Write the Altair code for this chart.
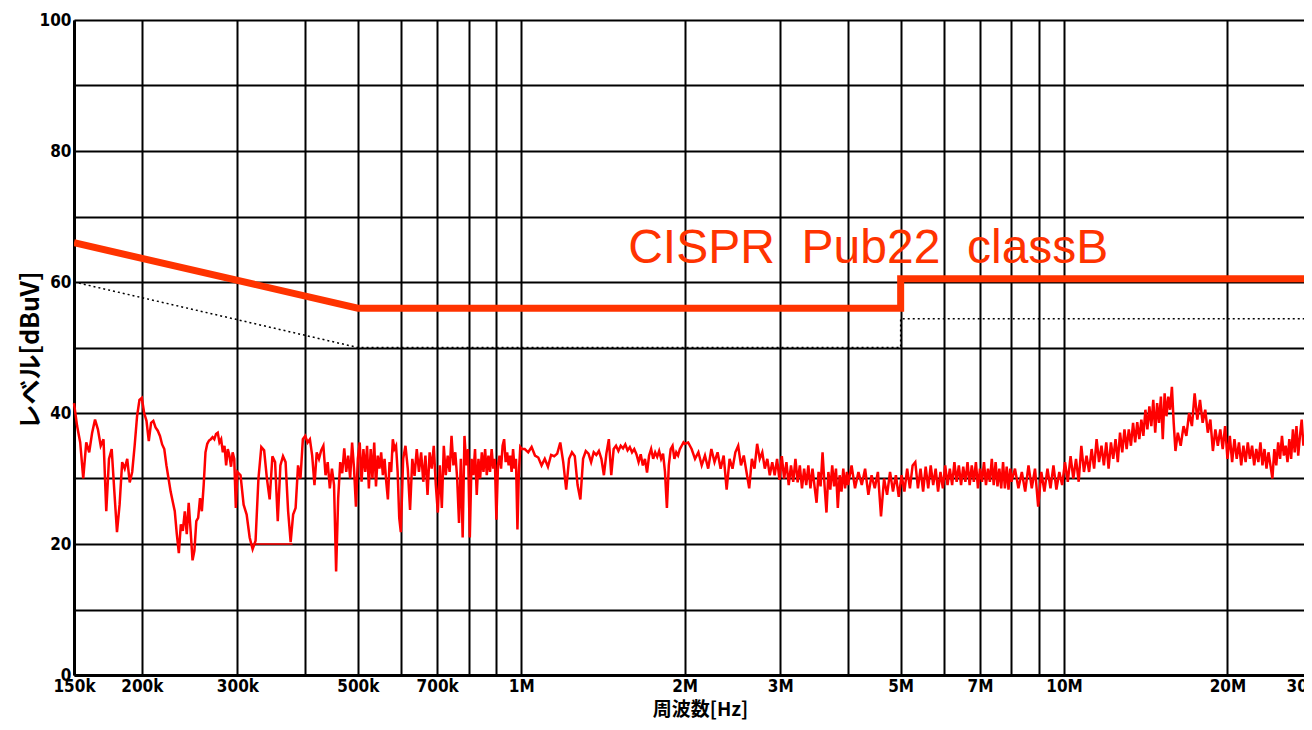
import altair as alt
import pandas as pd

# ---------------- measured trace (frequency in kHz, level in dBuV) ----------------
F1 = [150, 152, 154, 156, 158, 160, 162, 164, 166, 168, 170, 172, 174, 176, 178, 180, 182, 184, 186, 188,
      190, 192, 194, 196, 198, 200, 202, 204, 206, 208, 210, 212, 214, 216, 218, 220, 222, 224, 226, 228,
      230, 232, 234, 236, 238, 240, 242, 244, 246, 248, 250, 252, 254, 256, 258, 260, 262, 264, 266, 268,
      270, 272, 274, 276, 278, 280, 282, 284, 286, 288, 290, 292, 294, 296, 298, 300]
L1 = [41.5, 38, 35.5, 30, 35.5, 34, 37, 39, 37.5, 35, 36, 25, 33, 34.5, 28, 21.8, 26, 32.5, 31.5, 33,
      29.4, 31, 35, 39.5, 42, 42.3, 40, 38.8, 35.7, 38.5, 38.8, 37.8, 37.3, 36.5, 35.2, 34.5, 32, 30, 28, 26.5,
      25, 21.5, 18.6, 23, 22, 25, 21.5, 26.3, 22, 17.5, 19, 23.5, 24, 27, 25, 29, 34, 35.3, 35.8, 36,
      36.3, 36, 36.8, 37, 35.5, 36, 34, 35, 32, 34.5, 33.5, 31.8, 34, 33, 25.5, 31]

F2 = [304, 308, 312, 316, 320, 324, 328, 332, 336, 340, 344, 348, 352, 356, 360, 364, 368, 372, 376, 380,
      384, 388, 392, 396, 400, 404, 408, 412, 416, 420, 424, 428, 432, 436, 440, 444, 448, 452, 456, 460,
      464, 468, 472, 476, 480, 484, 488, 492, 496, 500, 504, 508, 512, 516, 520, 524, 528, 532, 536, 540,
      544, 548, 552, 556, 560, 564, 568, 572, 576, 580, 584, 588, 592, 596, 600]
L2 = [30.5, 26, 24.5, 21, 19.2, 20.5, 30, 34.8, 34.3, 30, 26.8, 33.4, 32.5, 23.5, 32, 33.4, 32.5, 25, 20.3, 24.5,
      25.5, 32, 30, 36, 36.5, 35.5, 36, 33.5, 29, 34, 33, 34.3, 35, 30.5, 32.5, 28.5, 31.5, 29, 15.8, 27,
      32.5, 30.8, 34.6, 31, 33.5, 30, 35.5, 31.5, 25.7, 33, 35.5, 29.5, 34.5, 31, 35, 28.5, 34.5, 30, 35.5, 28.8,
      33.5, 31.5, 34, 30.5, 33, 29.5, 26.8, 32.5, 31, 36, 34.5, 35, 31, 24, 21.8]

F3 = [606, 612, 618, 624, 630, 636, 642, 648, 654, 660, 666, 672, 678, 684, 690, 696, 702, 708, 714, 720,
      726, 732, 738, 744, 750, 756, 762, 768, 774, 780, 786, 792, 798, 804, 810, 816, 822, 828, 834, 840,
      846, 852, 858, 864, 870, 876, 882, 888, 894, 900, 906, 912, 918, 924, 930, 936, 942, 948, 954, 960,
      966, 972, 978, 984, 990, 996, 1002]
L3 = [33, 35, 31.5, 25.2, 33, 30.4, 34.5, 31, 34, 29.5, 33.5, 27.5, 34, 31.5, 35, 29, 24.8, 32, 25.5, 35,
      30.5, 33.5, 31, 36.5, 32, 34, 30, 23.2, 33, 21, 36.5, 32, 34.5, 21, 33, 30.5, 34.5, 27.5, 33, 30,
      34, 31, 34.5, 30.5, 33.5, 31, 34.5, 31.5, 33, 23.7, 32, 33.5, 31.5, 35, 36, 32.5, 34, 32, 33.5, 31,
      34.5, 31.5, 33, 22.2, 31, 34.8, 34.5]

F4 = [1015, 1030, 1045, 1060, 1075, 1090, 1105, 1120, 1135, 1150, 1165, 1180, 1195, 1210, 1225, 1240, 1255, 1270,
      1285, 1300, 1315, 1330, 1345, 1360, 1375, 1390, 1405, 1420, 1435, 1450, 1465, 1480, 1495, 1510, 1525, 1540,
      1555, 1570, 1585, 1600, 1615, 1630, 1645, 1660, 1675, 1690, 1705, 1720, 1735, 1750, 1765, 1780, 1795, 1810,
      1825, 1840, 1855, 1870, 1885, 1900, 1915, 1930, 1945, 1960, 1975, 1990, 2000]
L4 = [34.5, 34, 34.8, 33.5, 33.2, 32, 33, 31.8, 33.6, 33.4, 33.8, 35.5, 32.5, 28.3, 33, 34, 33.4, 29,
      26.8, 33, 34.2, 33.8, 32.5, 34, 33.6, 34.2, 33, 30.5, 33.8, 36, 30.5, 34.5, 35, 34.2, 35, 34.6,
      35.2, 34.3, 34.8, 34, 34.5, 33.7, 32.5, 33.7, 32, 33, 30.9, 33.5, 34.5, 33, 34, 33.3, 34.2, 33,
      33.8, 31, 25.5, 32, 34.5, 35, 33, 34, 33.5, 34.5, 35, 35.5, 35.3]

F5 = [2030, 2060, 2090, 2120, 2150, 2180, 2210, 2240, 2270, 2300, 2330, 2360, 2390, 2420, 2450, 2480, 2510, 2540,
      2570, 2600, 2630, 2660, 2690, 2720, 2750, 2780, 2810, 2840, 2870, 2900, 2930, 2960, 2990, 3020, 3050, 3080,
      3110, 3140, 3170, 3200, 3230, 3260, 3290, 3320, 3350, 3380, 3410, 3440, 3470, 3500, 3530, 3560, 3590, 3620,
      3650, 3680, 3710, 3740, 3770, 3800, 3830, 3860, 3890, 3920, 3950, 3980, 4000]
L5 = [35.5, 34.5, 33, 34, 32, 33.5, 31.5, 34.5, 32.5, 34, 31.5, 33.5, 28.3, 33, 31.5, 34, 35, 32,
      33.5, 31, 28.5, 33, 31.5, 35.3, 33, 34, 31.5, 33, 30.5, 32.5, 30.5, 33, 29.8, 33.4, 30, 32.5,
      29, 32, 29.5, 33, 29.4, 32, 28.5, 31.5, 29, 32, 28.5, 31.5, 28.8, 26.3, 31, 28.8, 34, 29,
      24.8, 31, 28.3, 32, 28.8, 31.5, 25.5, 30.5, 28, 31.5, 28.5, 31, 29]

F6 = [4060, 4120, 4180, 4240, 4300, 4360, 4420, 4480, 4540, 4600, 4660, 4720, 4780, 4840, 4900, 4960, 5020, 5080,
      5140, 5200, 5260, 5320, 5380, 5440, 5500, 5560, 5620, 5680, 5740, 5800, 5860, 5920, 5980, 6040, 6100, 6160,
      6220, 6280, 6340, 6400, 6460, 6520, 6580, 6640, 6700, 6760, 6820, 6880, 6940, 7000, 7060, 7120, 7180, 7240,
      7300, 7360, 7420, 7480, 7540, 7600, 7660, 7720, 7780, 7840, 7900, 7960, 8000]
L6 = [32, 28.5, 31, 29, 31.5, 27.5, 30.5, 28.5, 31, 24.2, 30, 27.5, 31, 28, 30.5, 27.2, 30.5, 28,
      31.5, 28.5, 32, 32.5, 28.5, 31.5, 28, 31.8, 28.5, 32, 29, 31.5, 28, 31, 28.5, 32, 29, 31.5,
      29, 32.5, 29.5, 32, 29, 31.8, 29.5, 32.5, 29, 32, 29.5, 32.5, 28.5, 31.5, 29.5, 32.5, 29, 31.5,
      29.5, 33, 29, 32.5, 28.8, 31.5, 28.5, 32.5, 28.5, 31.8, 28.3, 31.5, 29.5]

F7 = [8120, 8240, 8360, 8480, 8600, 8720, 8840, 8960, 9080, 9200, 9320, 9440, 9560, 9680, 9800, 9920, 10040,
      10160, 10280, 10400, 10520, 10640, 10760, 10880, 11000, 11120, 11240, 11360, 11480, 11600, 11720, 11840,
      11960, 12080, 12200, 12320, 12440, 12560, 12680, 12800, 12920, 13040, 13160, 13280, 13400, 13520, 13640,
      13760, 13880, 14000, 14120, 14240, 14360, 14480, 14600, 14720, 14840, 14960, 15080, 15200, 15320, 15440,
      15560, 15680, 15800, 15920, 16040]
L7 = [31.5, 28.5, 31, 28, 32, 28.5, 31.5, 25.7, 31, 28, 31.5, 28.5, 32, 28.3, 31, 29, 32.5,
      29.5, 33.4, 30, 33, 29.5, 35, 31, 33.5, 31, 34.5, 31.5, 36, 32.5, 35, 32,
      35.5, 31.5, 35.5, 33, 36, 32.5, 37, 34, 37.5, 34.5, 37.5, 35, 38.5, 35.5, 38.6,
      36, 39, 36.5, 40.5, 37.5, 41, 38, 42, 37, 41.5, 38.5, 42.5, 36, 43, 39.5,
      42.5, 40.5, 44, 38.5, 34.2]

F8 = [16200, 16400, 16600, 16800, 17000, 17200, 17400, 17600, 17800, 18000, 18200, 18400, 18600, 18800,
      19000, 19200, 19400, 19600, 19800, 20000, 20200, 20400, 20600, 20800, 21000, 21200, 21400, 21600,
      21800, 22000, 22200, 22400, 22600, 22800, 23000, 23200, 23400, 23600, 23800, 24000, 24200, 24400,
      24600, 24800, 25000, 25200, 25400, 25600, 25800, 26000, 26200, 26400, 26600, 26800, 27000, 27200,
      27400, 27600]
L8 = [37, 35, 38, 36.5, 40, 38, 43, 39, 42, 38.5, 40.5, 37, 39, 34.2,
      37.5, 35, 37.5, 34.5, 38, 33, 36.5, 32.5, 36, 33, 35.5, 32, 35, 32.5,
      35.5, 33, 35, 32, 34.5, 32.5, 35.5, 32, 34.5, 31.5, 34, 32, 30, 34.5,
      32, 35.5, 33, 36.5, 33.5, 35, 32.5, 36, 33, 37.5, 34, 38, 33.5, 36.5,
      39, 35]

# short flat floor segment drawn at 20 dBuV
FLOOR_KHZ = [324, 379]
FLOOR_DBUV = [20, 20]

# CISPR 22 class B limits as drawn
QP_LIMIT_HZ = [150e3, 500e3, 5e6, 5e6, 30e6]
QP_LIMIT_DBUV = [66, 56, 56, 60.5, 60.5]
AV_LIMIT_HZ = [150e3, 500e3, 5e6, 5e6, 30e6]
AV_LIMIT_DBUV = [60, 50, 50, 54.4, 54.4]

ANNOT_TEXT = "CISPR\u00a0\u00a0Pub22\u00a0\u00a0classB"
ANNOT_HZ = [1.574e6]
ANNOT_DBUV = [62.9]

X_GRID_HZ = [150e3, 200e3, 300e3, 400e3, 500e3, 600e3, 700e3, 800e3, 900e3,
             1e6, 2e6, 3e6, 4e6, 5e6, 6e6, 7e6, 8e6, 9e6, 10e6, 20e6]
X_TICK_HZ = [150e3, 200e3, 300e3, 500e3, 700e3, 1e6, 2e6, 3e6, 5e6, 7e6, 10e6, 20e6, 30e6]
X_TICK_LABELS = ["150k", "200k", "300k", "500k", "700k", "1M", "2M", "3M", "5M", "7M", "10M", "20M", "30M"]
Y_GRID = [0, 10, 20, 30, 40, 50, 60, 70, 80, 90, 100]
Y_LABELED = [0, 20, 40, 60, 80, 100]
X_DOMAIN = [150e3, 27.67e6]
Y_DOMAIN = [0, 100]

LIMIT_COLOR = "#ff3300"
TRACE_COLOR = "#ff0000"
TICK_FONT = "Liberation Sans Narrow, DejaVu Sans Condensed, Liberation Sans, sans-serif"
JP_FONT = "Noto Sans CJK JP"

# ---------------- tables ----------------
FREQ_KHZ = F1 + F2 + F3 + F4 + F5 + F6 + F7 + F8
LEVEL = L1 + L2 + L3 + L4 + L5 + L6 + L7 + L8
for fa, la in [(F1, L1), (F2, L2), (F3, L3), (F4, L4), (F5, L5), (F6, L6), (F7, L7), (F8, L8)]:
    if len(fa) != len(la):
        raise ValueError(f"length mismatch {len(fa)} vs {len(la)} starting {fa[0]}")

trace_df = pd.DataFrame({"f": [k * 1000 for k in FREQ_KHZ], "db": LEVEL})
floor_df = pd.DataFrame({"f": [k * 1000 for k in FLOOR_KHZ], "db": FLOOR_DBUV})
qp_df = pd.DataFrame({"f": QP_LIMIT_HZ, "db": QP_LIMIT_DBUV, "i": list(range(len(QP_LIMIT_HZ)))})
av_df = pd.DataFrame({"f": AV_LIMIT_HZ, "db": AV_LIMIT_DBUV, "i": list(range(len(AV_LIMIT_HZ)))})
annot_df = pd.DataFrame({"f": ANNOT_HZ, "db": ANNOT_DBUV, "label": [ANNOT_TEXT]})
out_ticks = [(v, l) for v, l in zip(X_TICK_HZ, X_TICK_LABELS) if v > X_DOMAIN[1]]
edge_df = pd.DataFrame({"f": [v for v, _ in out_ticks], "db": [Y_DOMAIN[0]] * len(out_ticks),
                        "label": [l for _, l in out_ticks]})

label_expr_x = " : ".join(
    [f"abs(datum.value - {v}) < 1 ? '{l}'" for v, l in zip(X_TICK_HZ, X_TICK_LABELS)]
) + " : ''"
label_expr_y = "indexof([" + ",".join(str(v) for v in Y_LABELED) + "], datum.value) >= 0 ? datum.label : ''"

W, H = 1230, 655

xscale = alt.Scale(type="log", domain=X_DOMAIN, nice=False, zero=False)
yscale = alt.Scale(domain=Y_DOMAIN, nice=False, zero=False)

xaxis = alt.Axis(
    values=X_GRID_HZ, labelExpr=label_expr_x, title="周波数[Hz]",
    grid=True, gridColor="black", gridWidth=2, gridOpacity=1,
    domainColor="black", domainWidth=3, ticks=False,
    labelFont=TICK_FONT, labelFontSize=17, labelFontWeight="bold", labelColor="black",
    labelPadding=3, labelFlush=False, labelOverlap=False, labelBound=False,
    titleFont=JP_FONT, titleFontSize=19, titleFontWeight="bold", titleColor="black",
    titleX=626, titleY=34, titleAlign="center", titleBaseline="middle",
)
yaxis = alt.Axis(
    values=Y_GRID, labelExpr=label_expr_y, title="レベル[dBuV]",
    grid=True, gridColor="black", gridWidth=2, gridOpacity=1,
    domainColor="black", domainWidth=3, ticks=False,
    labelFont=TICK_FONT, labelFontSize=17, labelFontWeight="bold", labelColor="black",
    labelPadding=3, labelFlush=False, labelOverlap=False, labelBound=False,
    titleFont=JP_FONT, titleFontSize=25, titleFontWeight="bold", titleColor="black",
    titleAngle=270, titleX=-44, titleY=330, titleAlign="center", titleBaseline="middle",
)

X = alt.X("f:Q", scale=xscale, axis=xaxis)
Y = alt.Y("db:Q", scale=yscale, axis=yaxis)

trace = alt.Chart(trace_df).mark_line(color=TRACE_COLOR, strokeWidth=2.5).encode(x=X, y=Y)
floor = alt.Chart(floor_df).mark_line(color=TRACE_COLOR, strokeWidth=1.5).encode(x=X, y=Y)
av = alt.Chart(av_df).mark_line(color="black", strokeWidth=1.5, strokeDash=[2, 3], clip=True).encode(
    x=X, y=Y, order=alt.Order("i:Q"))
qp = alt.Chart(qp_df).mark_line(color=LIMIT_COLOR, strokeWidth=7, clip=True).encode(
    x=X, y=Y, order=alt.Order("i:Q"))
annot = alt.Chart(annot_df).mark_text(
    align="left", baseline="alphabetic", font="Liberation Sans", fontSize=48, color=LIMIT_COLOR
).encode(x=X, y=Y, text="label:N")
edge = alt.Chart(edge_df).mark_text(
    align="right", baseline="top", dy=4, font=TICK_FONT, fontSize=17, fontWeight="bold", color="black"
).encode(x=X, y=Y, text="label:N")

chart = alt.layer(av, trace, floor, qp, annot, edge).properties(
    width=W, height=H,
    autosize=alt.AutoSizeParams(type="none"),
    padding={"left": 66, "top": 12, "right": 0, "bottom": 45},
    background="white",
).configure_view(stroke=None)

chart.save("out.html", embed_options={"renderer": "svg", "actions": False})
